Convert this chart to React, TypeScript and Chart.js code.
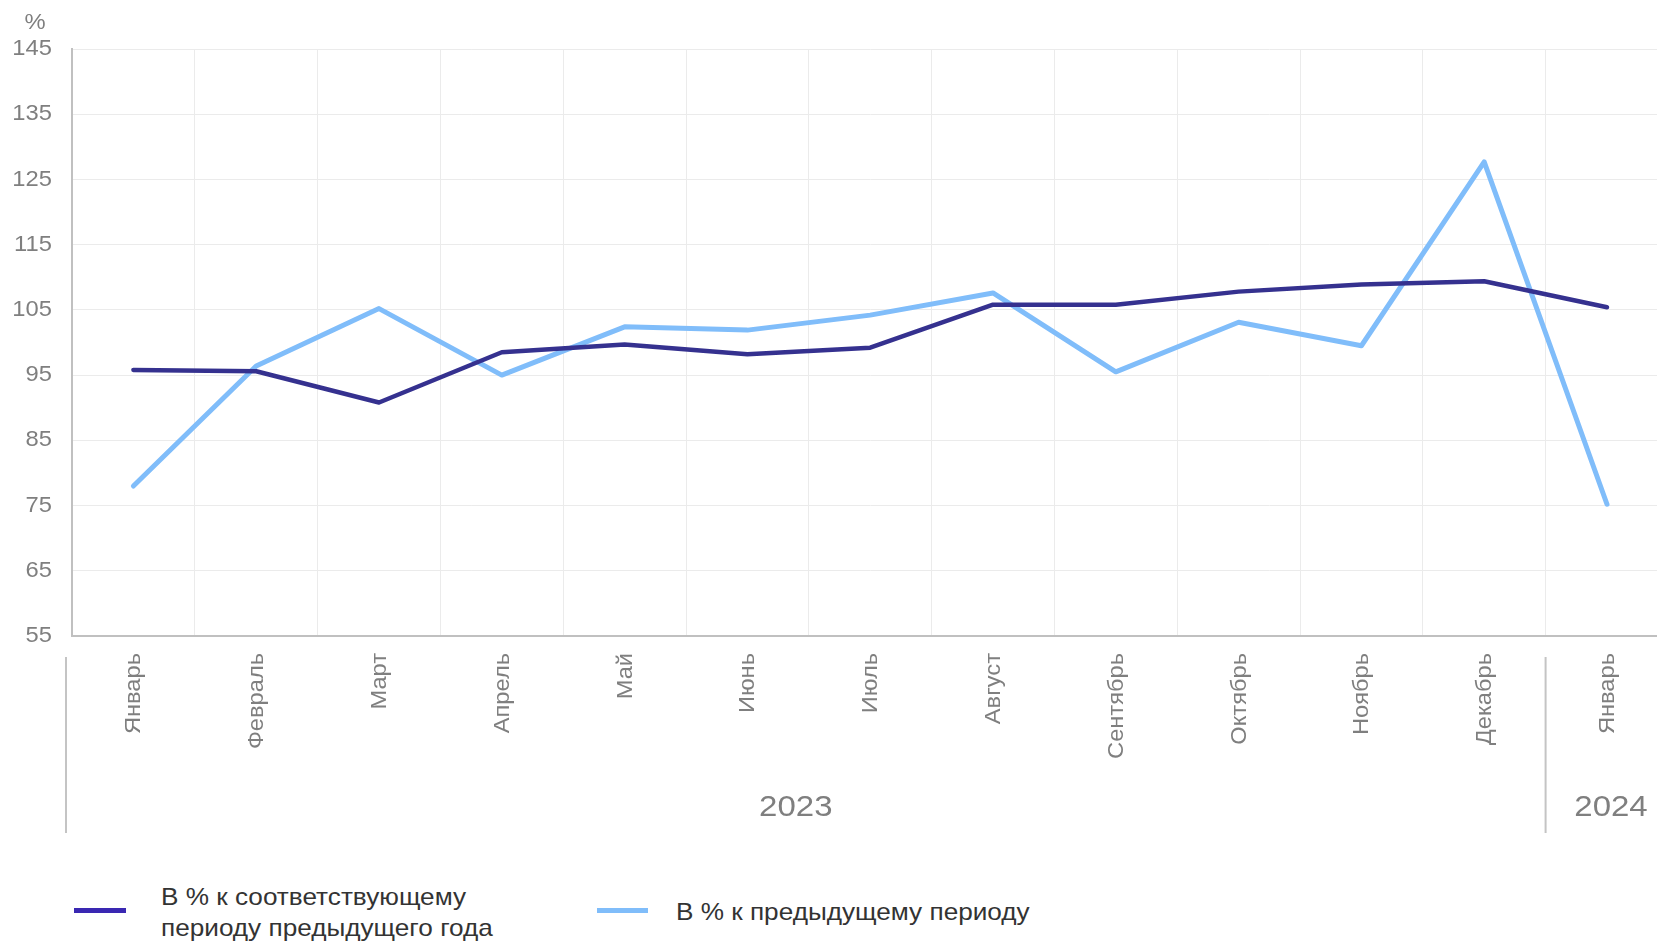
import React, { useEffect, useRef } from "react";
import { Chart, registerables } from "chart.js";

Chart.register(...registerables);

const categories = [
  "Январь", "Февраль", "Март", "Апрель", "Май", "Июнь",
  "Июль", "Август", "Сентябрь", "Октябрь", "Ноябрь", "Декабрь", "Январь",
];
const yoyValues = [95.8, 95.6, 90.8, 98.5, 99.7, 98.2, 99.2, 105.8, 105.8, 107.8, 108.9, 109.4, 105.4];
const momValues = [78.0, 96.4, 105.2, 95.0, 102.4, 101.9, 104.2, 107.6, 95.5, 103.1, 99.5, 127.7, 75.2];
const yMin = 55;
const yMax = 145;
const yStep = 10;
const yUnit = "%";
const yearGroups = [
  { label: "2023", from: 0, to: 11 },
  { label: "2024", from: 12, to: 12 },
];
const seriesNames = [
  ["В % к соответствующему", "периоду предыдущего года"],
  ["В % к предыдущему периоду"],
];

const DARK = "#35318f";
const LIGHT = "#80bdfa";
const LEGEND_DARK = "#3a28b2";
const GRAY_TEXT = "#7f7f7f";
const FONT = "'Liberation Sans', Arial, sans-serif";

const CANVAS_W = 1680;
const CANVAS_H = 870;

function stretchedText(ctx: any, text: string, x: number, y: number, sx: number, rot = 0) {
  ctx.save();
  ctx.translate(x, y);
  if (rot) ctx.rotate(rot);
  ctx.scale(sx, 1);
  ctx.fillText(text, 0, 0);
  ctx.restore();
}

const extrasPlugin = {
  id: "extras",
  afterDraw(chart: any) {
    const ctx = chart.ctx;
    const x = chart.scales.x;
    const y = chart.scales.y;
    const area = chart.chartArea;
    ctx.save();
    ctx.fillStyle = GRAY_TEXT;

    // unit label
    ctx.font = `22px ${FONT}`;
    ctx.textAlign = "center";
    ctx.textBaseline = "middle";
    stretchedText(ctx, yUnit, area.left - 37, area.top - 26, 1.08);

    // y tick labels
    ctx.textAlign = "right";
    ctx.textBaseline = "middle";
    y.ticks.forEach((t: any) => {
      stretchedText(ctx, String(t.value), area.left - 20, y.getPixelForValue(t.value), 1.08);
    });

    // x tick labels (rotated)
    ctx.textAlign = "right";
    ctx.textBaseline = "middle";
    categories.forEach((c, i) => {
      stretchedText(ctx, c, x.getPixelForValue(i) + 1, area.bottom + 17, 1.075, -Math.PI / 2);
    });

    // separators
    const sepTop = area.bottom + 21;
    const sepBottom = area.bottom + 197;
    const seps: number[] = yearGroups.map((g, i) =>
      i === 0 ? area.left - 6 : x.getPixelForValue(g.from - 0.5)
    );
    ctx.strokeStyle = "#c4c4c4";
    ctx.lineWidth = 2;
    seps.forEach((sx) => {
      ctx.beginPath();
      ctx.moveTo(sx, sepTop);
      ctx.lineTo(sx, sepBottom);
      ctx.stroke();
    });

    // year labels
    ctx.font = `30px ${FONT}`;
    ctx.textAlign = "center";
    ctx.textBaseline = "middle";
    yearGroups.forEach((g, i) => {
      const start = seps[i];
      const end = i + 1 < seps.length ? seps[i + 1] : x.getPixelForValue(g.to + 0.5);
      let cx = (start + end) / 2;
      cx += i === 0 ? -10 : 4;
      stretchedText(ctx, g.label, cx, area.bottom + 172, 1.1);
    });
    ctx.restore();
  },
};

export default function App() {
  const ref = useRef<HTMLCanvasElement | null>(null);
  useEffect(() => {
    if (!ref.current) return;
    const chart = new Chart(ref.current, {
      type: "line",
      data: {
        labels: categories,
        datasets: [
          {
            label: seriesNames[0].join(" "),
            data: yoyValues,
            borderColor: DARK,
            backgroundColor: DARK,
            borderWidth: 4.5,
            pointRadius: 0,
            tension: 0,
            borderCapStyle: "round",
            borderJoinStyle: "round",
          },
          {
            label: seriesNames[1].join(" "),
            data: momValues,
            borderColor: LIGHT,
            backgroundColor: LIGHT,
            borderWidth: 5,
            pointRadius: 0,
            tension: 0,
            borderCapStyle: "round",
            borderJoinStyle: "round",
          },
        ],
      },
      options: {
        responsive: false,
        animation: false,
        devicePixelRatio: 1,
        layout: { padding: { top: 49, left: 0, right: CANVAS_W - (72 + 13 * 122.8), bottom: 0 } },
        plugins: { legend: { display: false }, tooltip: { enabled: false } },
        scales: {
          x: {
            offset: true,
            afterFit: (s: any) => { s.height = CANVAS_H - 636; },
            grid: { display: true, offset: true, color: "#ebebeb", lineWidth: 1, drawTicks: false },
            border: { display: true, color: "#c0c0c0", width: 2 },
            ticks: { display: false, autoSkip: false },
          },
          y: {
            min: yMin,
            max: yMax,
            afterFit: (s: any) => { s.width = 72; },
            grid: { color: "#ebebeb", lineWidth: 1, drawTicks: false },
            border: { display: true, color: "#c0c0c0", width: 2 },
            ticks: { display: false, stepSize: yStep },
          },
        },
      },
      plugins: [extrasPlugin],
    });
    return () => chart.destroy();
  }, []);

  const legendText: React.CSSProperties = {
    position: "absolute",
    fontFamily: FONT,
    fontSize: 24,
    lineHeight: "31px",
    color: "#333333",
    whiteSpace: "nowrap",
    transform: "scaleX(1.09)",
    transformOrigin: "left center",
  };

  return (
    <div style={{ position: "fixed", left: 0, top: 0, width: 1657, height: 942, overflow: "hidden", background: "#fff" }}>
      <canvas
        ref={ref}
        width={CANVAS_W}
        height={CANVAS_H}
        style={{ position: "absolute", left: 0, top: 0, width: CANVAS_W, height: CANVAS_H }}
      />
      <div style={{ position: "absolute", left: 74, top: 908, width: 52, height: 5, background: LEGEND_DARK }} />
      <div style={{ ...legendText, left: 161, top: 881 }}>
        {seriesNames[0].map((l, i) => (
          <div key={i}>{l}</div>
        ))}
      </div>
      <div style={{ position: "absolute", left: 597, top: 908, width: 51, height: 5, background: LIGHT }} />
      <div style={{ ...legendText, left: 676, top: 896 }}>
        {seriesNames[1].map((l, i) => (
          <div key={i}>{l}</div>
        ))}
      </div>
    </div>
  );
}
